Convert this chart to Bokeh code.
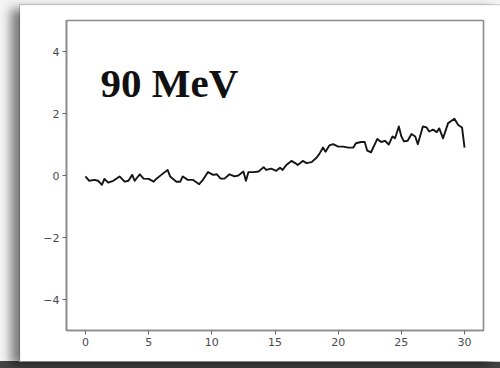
from bokeh.plotting import figure
from bokeh.layouts import column
from bokeh.models import FixedTicker, Label, Range1d
from bokeh.embed import file_html
from bokeh.resources import INLINE

# Signal trace (time vs. response)
t = [0.0, 0.3, 0.7, 1.0, 1.3, 1.5, 1.8, 2.2, 2.7, 3.1, 3.4, 3.7, 3.9, 4.3, 4.6,
     5.0, 5.4, 5.6, 6.0, 6.5, 6.7, 7.2, 7.5, 7.7, 8.1, 8.5, 9.0, 9.3, 9.7, 10.1,
     10.4, 10.7, 11.0, 11.4, 11.8, 12.1, 12.5, 12.7, 12.9, 13.3, 13.7, 14.1, 14.3,
     14.7, 15.1, 15.4, 15.6, 15.9, 16.3, 16.6, 16.8, 17.2, 17.5, 17.9, 18.3, 18.5,
     18.8, 19.0, 19.3, 19.6, 20.0, 20.4, 20.8, 21.2, 21.4, 21.8, 22.1, 22.3, 22.6,
     23.1, 23.4, 23.7, 24.0, 24.3, 24.5, 24.8, 25.0, 25.2, 25.5, 25.8, 26.1, 26.3,
     26.7, 27.0, 27.2, 27.5, 27.8, 28.0, 28.3, 28.7, 29.2, 29.5, 29.8, 30.0]
signal = [-0.03, -0.17, -0.14, -0.17, -0.30, -0.11, -0.23, -0.17, -0.03, -0.20,
          -0.17, 0.02, -0.17, 0.04, -0.10, -0.11, -0.20, -0.11, 0.02, 0.18, -0.03,
          -0.20, -0.20, -0.03, -0.14, -0.14, -0.28, -0.14, 0.11, 0.02, 0.04, -0.10,
          -0.10, 0.04, -0.03, 0.00, 0.13, -0.17, 0.11, 0.11, 0.13, 0.27, 0.18,
          0.22, 0.15, 0.25, 0.18, 0.34, 0.47, 0.40, 0.34, 0.47, 0.40, 0.43, 0.58,
          0.69, 0.90, 0.77, 0.97, 1.01, 0.93, 0.93, 0.90, 0.90, 1.04, 1.08, 1.08,
          0.80, 0.75, 1.18, 1.08, 1.12, 1.00, 1.26, 1.20, 1.58, 1.26, 1.10, 1.12,
          1.34, 1.26, 1.01, 1.58, 1.55, 1.42, 1.48, 1.40, 1.52, 1.20, 1.69, 1.83,
          1.63, 1.55, 0.90]

x_ticks = [0, 5, 10, 15, 20, 25, 30]
y_ticks = [-4, -2, 0, 2, 4]
y_tick_labels = {-4: "\u22124", -2: "\u22122", 0: "0", 2: "2", 4: "4"}
title_text = "90 MeV"

p = figure(width=480, height=356, output_backend="svg", toolbar_location=None,
           x_range=Range1d(-1.5, 31.5), y_range=Range1d(-5, 5),
           min_border_left=46, min_border_right=17, min_border_top=15,
           min_border_bottom=31, margin=(5, 0, 7, 20),
           background_fill_color="white", border_fill_color="white",
           styles={"box-shadow": "-9px 4px 10px rgba(0,0,0,0.50), 0 0 0 1px #d4d4d4"})

p.line(t, signal, line_color="#151515", line_width=1.9, line_join="round")

p.xgrid.visible = False
p.ygrid.visible = False
p.outline_line_color = "#8c8c8c"
p.outline_line_width = 1.6

p.xaxis.ticker = FixedTicker(ticks=x_ticks)
p.yaxis.ticker = FixedTicker(ticks=y_ticks)
p.yaxis.major_label_overrides = y_tick_labels
for ax in (p.xaxis, p.yaxis):
    ax.axis_line_color = "#8c8c8c"
    ax.axis_line_width = 1.6
    ax.major_tick_line_color = "#666666"
    ax.major_tick_out = 4
    ax.major_tick_in = 0
    ax.minor_tick_line_color = None
    ax.major_label_text_font = "DejaVu Sans"
    ax.major_label_text_font_size = "11px"
    ax.major_label_text_color = "#4a4a4a"
    ax.major_label_standoff = 3

p.add_layout(Label(x=1.2, y=3.0, text=title_text, text_font="Liberation Serif",
                   text_font_style="bold", text_font_size="41px",
                   text_color="#111111", text_baseline="alphabetic"))

page = column(p, width=500, height=368,
              styles={"background": "linear-gradient(to bottom, #f4f4f4 0px, #f4f4f4 361px, #454545 361px, #454545 368px)"})

open("out.html", "w").write(file_html(page, INLINE))
